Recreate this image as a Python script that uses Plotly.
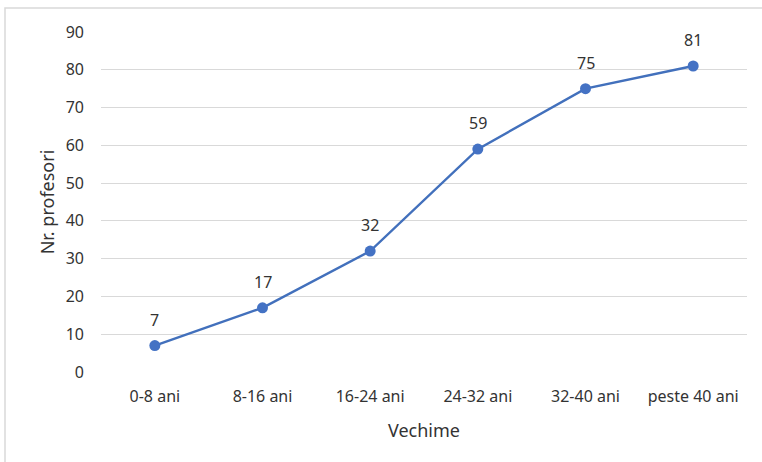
import plotly.graph_objects as go

categories = ["0-8 ani", "8-16 ani", "16-24 ani", "24-32 ani", "32-40 ani", "peste 40 ani"]
values = [7, 17, 32, 59, 75, 81]
y_ticks = [0, 10, 20, 30, 40, 50, 60, 70, 80, 90]

W, H = 762, 462
L, R, T, B = 101, 15, 32, 90
TXT = "#333333"

fig = go.Figure()
fig.add_trace(go.Scatter(
    x=categories, y=values,
    mode="lines+markers",
    line=dict(color="#4270BC", width=2.4),
    marker=dict(color="#4472C4", size=11),
    cliponaxis=False,
))

for c, v in zip(categories, values):
    fig.add_annotation(x=c, y=v, text=str(v), showarrow=False,
                       yshift=26, font=dict(size=16, color=TXT))

pw = W - L - R
ph = H - T - B
def px_x(p):
    return (p - L) / pw
def px_y(p):
    return (H - B - p) / ph

fig.add_shape(type="rect", xref="paper", yref="paper",
              x0=px_x(5), x1=px_x(775), y0=px_y(8), y1=px_y(475),
              line=dict(color="#d9d9d9", width=1.5), fillcolor="rgba(0,0,0,0)", layer="below")

fig.update_layout(
    width=W, height=H,
    margin=dict(l=L, r=R, t=T, b=B, pad=0),
    paper_bgcolor="white", plot_bgcolor="white",
    font=dict(family="Noto Sans, Open Sans, sans-serif", size=16, color=TXT),
    showlegend=False,
    xaxis=dict(
        type="category", range=[-0.5, 5.5],
        showgrid=False, showline=False, zeroline=False,
        ticks="", ticklabelstandoff=13,
        tickfont=dict(size=16, color=TXT),
        title=dict(text="Vechime", font=dict(size=18, color=TXT), standoff=18),
    ),
    yaxis=dict(
        range=[0, 90], tickvals=y_ticks,
        showgrid=True, gridcolor="#d9d9d9", gridwidth=1.3,
        zeroline=False, showline=False, ticks="",
        ticklabelstandoff=16,
        tickfont=dict(size=16, color=TXT),
        title=dict(text="Nr. profesori", font=dict(size=18, color=TXT), standoff=6),
    ),
)

fig.write_html("out.html", config={"displayModeBar": False},
               post_script="document.body.style.margin='0';")
